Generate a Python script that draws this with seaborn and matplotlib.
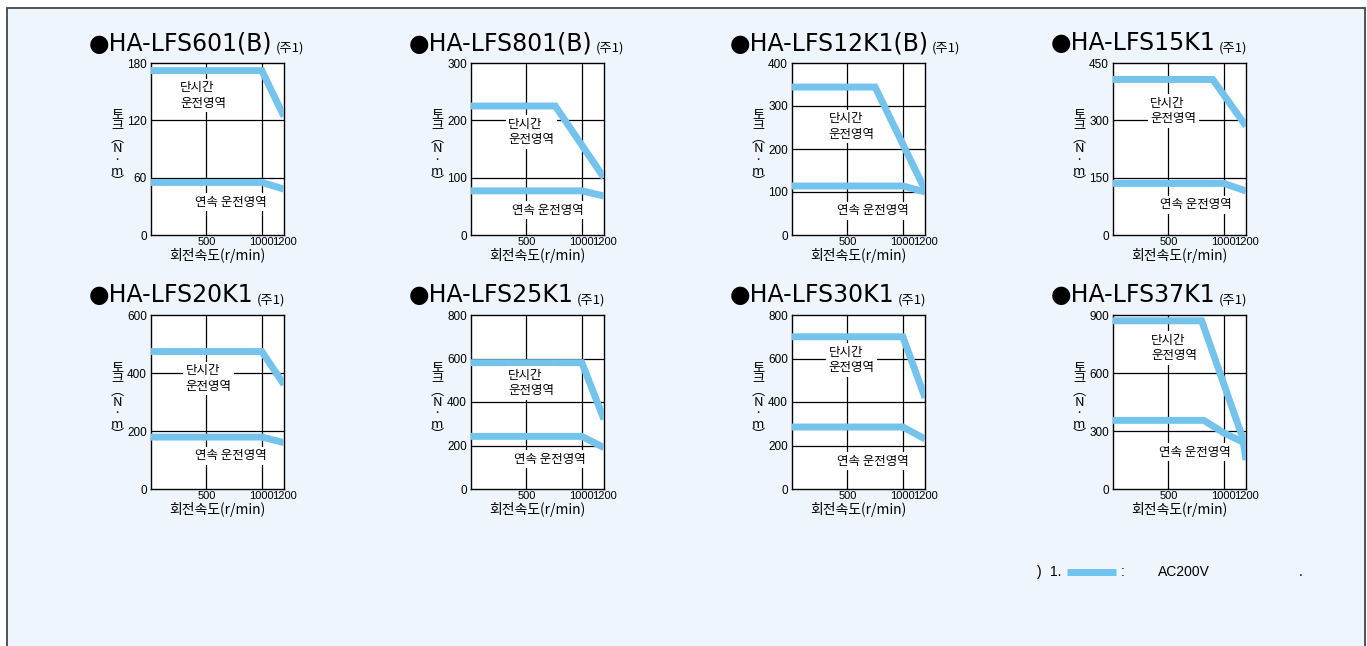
import matplotlib
matplotlib.use("Agg")
import matplotlib.pyplot as plt
import seaborn as sns
from matplotlib.patches import Rectangle
from matplotlib.lines import Line2D

# chart data
models = ["HA-LFS601(B)", "HA-LFS801(B)", "HA-LFS12K1(B)", "HA-LFS15K1",
          "HA-LFS20K1", "HA-LFS25K1", "HA-LFS30K1", "HA-LFS37K1"]
y_max = [180, 300, 400, 450, 600, 800, 800, 900]
y_step = [60, 100, 100, 150, 200, 200, 200, 300]
x_ticks = [500, 1000, 1200]

short_rpm = [[0, 1000, 1200], [0, 760, 1200], [0, 750, 1200], [0, 900, 1200],
             [0, 1000, 1200], [0, 1000, 1200], [0, 1000, 1200], [0, 800, 1170, 1200]]
short_trq = [[172, 172, 124], [225, 225, 100], [344, 344, 105], [407, 407, 285],
             [474, 474, 360], [581, 581, 320], [700, 700, 420], [870, 870, 265, 150]]
cont_rpm = [[0, 1000, 1200], [0, 1000, 1200], [0, 1000, 1200], [0, 1000, 1200],
            [0, 1000, 1200], [0, 1000, 1200], [0, 1000, 1200], [0, 820, 1000, 1200]]
cont_trq = [[55, 55, 48], [77, 77, 68], [114, 114, 100], [135, 135, 115],
            [179, 179, 160], [242, 242, 190], [285, 285, 230], [355, 355, 290, 235]]

# label positions (axes fraction)
short_lbl = [(0.22, 0.81), (0.28, 0.60), (0.275, 0.63), (0.28, 0.72),
             (0.26, 0.635), (0.28, 0.61), (0.275, 0.74), (0.285, 0.81)]
cont_lbl = [(0.33, 0.19), (0.31, 0.145), (0.34, 0.14), (0.35, 0.175),
            (0.33, 0.19), (0.32, 0.17), (0.34, 0.16), (0.345, 0.21)]

BLUE = "#74C3EC"
BG = "#EEF5FC"
W, H = 1367, 646

sns.set_theme(style="white")
plt.rcParams["font.family"] = ["Liberation Sans", "Noto Sans CJK KR", "DejaVu Sans"]
plt.rcParams["text.color"] = "black"
plt.rcParams["axes.labelcolor"] = "black"
KR = ["Noto Sans CJK KR", "DejaVu Sans"]

fig = plt.figure(figsize=(W / 100, H / 100), dpi=100)
fig.patch.set_facecolor("white")
fig.add_artist(Rectangle((7 / W, -0.05), (1365 - 7) / W, 1.05 - 8 / H,
                         transform=fig.transFigure, facecolor=BG,
                         edgecolor="#444444", linewidth=1.3, zorder=0))

col_left = [151, 471, 792, 1113]
row_box = [(63, 235), (315, 489)]

for i, name in enumerate(models):
    r, c = divmod(i, 4)
    top, bot = row_box[r]
    left = col_left[c]
    ax = fig.add_axes([left / W, 1 - bot / H, 133 / W, (bot - top) / H])
    ax.set_facecolor("white")

    ax.set_xlim(0, 1200)
    ax.set_ylim(0, y_max[i])
    yt = list(range(0, y_max[i] + 1, y_step[i]))
    ax.set_yticks(yt)
    ax.set_xticks(x_ticks)
    ax.tick_params(axis="both", length=0, colors="black")
    ax.tick_params(axis="y", pad=3, labelsize=8.5)
    ax.tick_params(axis="x", pad=1.5, labelsize=8)
    for s in ax.spines.values():
        s.set_color("black")
        s.set_linewidth(1.0)

    for gx in [500, 1000]:
        ax.axvline(gx, color="black", linewidth=0.9, zorder=1)
    for gy in yt[1:-1]:
        ax.axhline(gy, color="black", linewidth=0.9, zorder=1)

    sns.lineplot(x=short_rpm[i], y=short_trq[i], ax=ax, color=BLUE,
                 linewidth=5, solid_capstyle="butt", solid_joinstyle="miter",
                 zorder=3)
    sns.lineplot(x=cont_rpm[i], y=cont_trq[i], ax=ax, color=BLUE,
                 linewidth=5, solid_capstyle="butt", solid_joinstyle="miter",
                 zorder=3)

    box = dict(boxstyle="square,pad=0.2", facecolor="white", edgecolor="none")
    ax.text(short_lbl[i][0], short_lbl[i][1], "단시간\n운전영역",
            transform=ax.transAxes, family=KR, fontsize=9, ha="left",
            va="center", linespacing=1.25, bbox=box, zorder=4)
    ax.text(cont_lbl[i][0], cont_lbl[i][1], "연속 운전영역",
            transform=ax.transAxes, family=KR, fontsize=9, ha="left",
            va="center", bbox=box, zorder=4)

    ax.set_xlabel("회전속도(r/min)", family=KR, fontsize=10, labelpad=1)
    ax.set_ylabel("")
    fig.text((left - 34) / W, 1 - (top + bot) / 2 / H,
             "토\n크\n︵\nN\n·\nm\n︶", family=KR, fontsize=9.5,
             ha="center", va="center", multialignment="center",
             linespacing=0.82)

    title = fig.text((left - 62) / W, 1 - (top - 13) / H, "●" + name,
                     family=["DejaVu Sans"], fontsize=17, ha="left",
                     va="baseline", color="black")
    ax.annotate("(주1)", xy=(1, 0), xycoords=title, xytext=(2, 0),
                textcoords="offset points", family=KR, fontsize=9.5,
                ha="left", va="bottom", annotation_clip=False)

# footnote
fy = 1 - 572 / H
fig.text(1037 / W, fy, ")", fontsize=10, ha="left", va="center")
fig.text(1050 / W, fy, "1.", fontsize=10, ha="left", va="center")
fig.add_artist(Line2D([1067 / W, 1116 / W], [fy, fy], color="#6CC4EF",
                      linewidth=5, solid_capstyle="butt",
                      transform=fig.transFigure))
fig.text(1121 / W, fy, ":", fontsize=10, ha="left", va="center")
fig.text(1158 / W, fy, "AC200V", fontsize=10, ha="left", va="center")
fig.text(1299 / W, fy, ".", fontsize=10, ha="left", va="center")

fig.savefig("out.png", dpi=100, facecolor="white")
